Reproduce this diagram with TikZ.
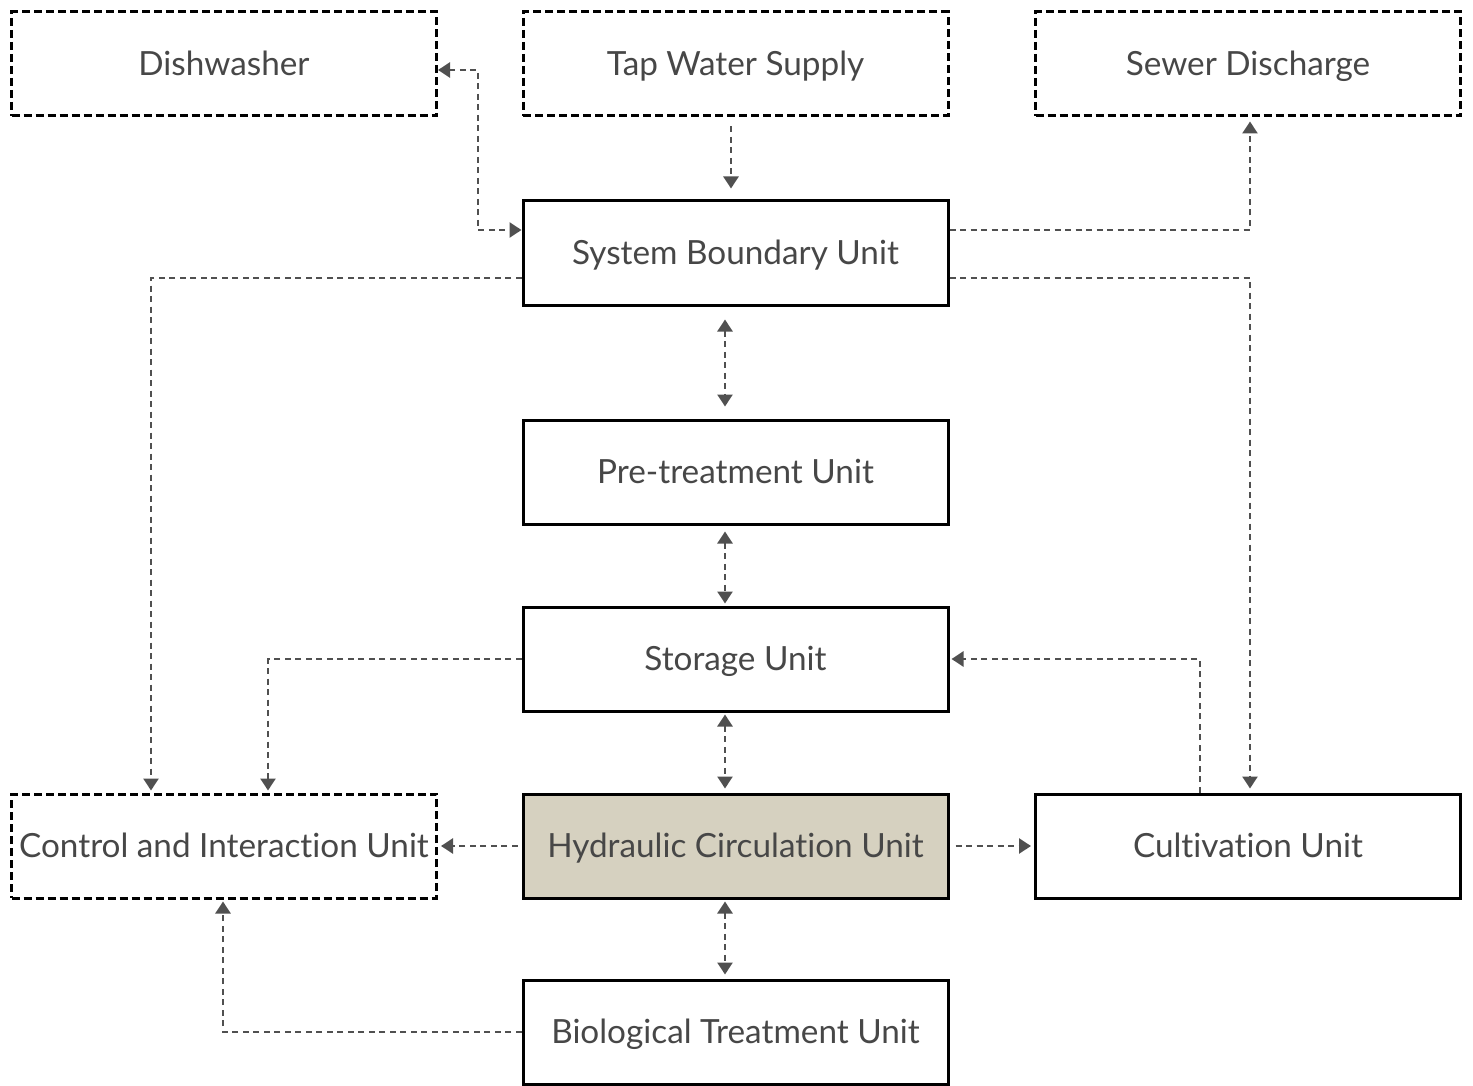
\documentclass[tikz,border=0pt]{standalone}
\usepackage{fontspec}
\setmainfont[Ligatures={NoCommon}]{Lato}
\usetikzlibrary{arrows.meta}
\definecolor{txt}{HTML}{474747}
\definecolor{conncol}{HTML}{505050}
\definecolor{hydfill}{HTML}{D6D1C0}
\begin{document}
\begin{tikzpicture}[x=1pt,y=-1pt,
  unit/.style={rectangle, minimum width=425pt, minimum height=104pt, line width=3pt,
    draw=black, fill=white, text=txt, font=\fontsize{33.3}{40}\selectfont, inner sep=0pt,
    text height=27pt, text depth=4pt},
  solidbox/.style={unit},
  dashbox/.style={unit, dash pattern=on 8pt off 4pt},
  conn/.style={draw=conncol, line width=2.5pt, dash pattern=on 6pt off 4.5pt,
    arrows={-Triangle[length=12pt,width=15pt,fill=conncol]}},
  bconn/.style={conn, arrows={Triangle[length=12pt,width=15pt,fill=conncol]-Triangle[length=12pt,width=15pt,fill=conncol]}}
]
\useasboundingbox[fill=white] (0,0) rectangle (1473,1086);

% external interfaces
\node[dashbox] (dw)  at (224,64)    {Dishwasher};
\node[dashbox] (tap) at (735.5,64)  {Tap Water Supply};
\node[dashbox] (sew) at (1248,64)   {Sewer Discharge};

% main process chain
\node[solidbox] (sb)  at (735.5,253)  {System Boundary Unit};
\node[solidbox] (pre) at (735.5,472)  {Pre-treatment Unit};
\node[solidbox] (sto) at (735.5,659)  {Storage Unit};
\node[solidbox, fill=hydfill] (hyd) at (735.5,846) {Hydraulic Circulation Unit};
\node[solidbox] (bio) at (735.5,1032) {Biological Treatment Unit};

% side units
\node[dashbox]  (ctl) at (224,846)  {Control and Interaction Unit};
\node[solidbox] (cul) at (1248,846) {Cultivation Unit};

% connections
\draw[bconn] ([yshift=-6pt]dw.east) -- ([xshift=40pt,yshift=-6pt]dw.east) |- ([yshift=23pt]sb.west);
\draw[conn] ([xshift=-4.5pt,yshift=-9pt]tap.south) -- ([xshift=-4.5pt,yshift=11pt]sb.north);
\draw[conn] ([yshift=23pt]sb.east) -| ([xshift=2pt,yshift=-4pt]sew.south);
\draw[conn] ([yshift=-25pt]sb.west) -| ([xshift=-73pt,yshift=2pt]ctl.north);
\draw[conn] ([yshift=-25pt]sb.east) -| ([xshift=2pt,yshift=4pt]cul.north);

\draw[bconn] ([xshift=-10.5pt,yshift=-13pt]sb.south) -- ([xshift=-10.5pt,yshift=12pt]pre.north);
\draw[bconn] ([xshift=-10.5pt,yshift=-6pt]pre.south) -- ([xshift=-10.5pt,yshift=2pt]sto.north);
\draw[bconn] ([xshift=-10.5pt,yshift=-2pt]sto.south) -- ([xshift=-10.5pt,yshift=4pt]hyd.north);
\draw[bconn] ([xshift=-10.5pt,yshift=-2pt]hyd.south) -- ([xshift=-10.5pt,yshift=4pt]bio.north);

\draw[conn] (sto.west) -| ([xshift=44pt,yshift=2pt]ctl.north);
\draw[conn] ([xshift=-48pt]cul.north) |- ([xshift=2pt]sto.east);

\draw[conn] ([xshift=-4pt]hyd.west) -- ([xshift=3pt]ctl.east);
\draw[conn] ([xshift=6pt]hyd.east) -- ([xshift=-3pt]cul.west);
\draw[conn] (bio.west) -| ([xshift=-1pt,yshift=-2pt]ctl.south);
\end{tikzpicture}
\end{document}
